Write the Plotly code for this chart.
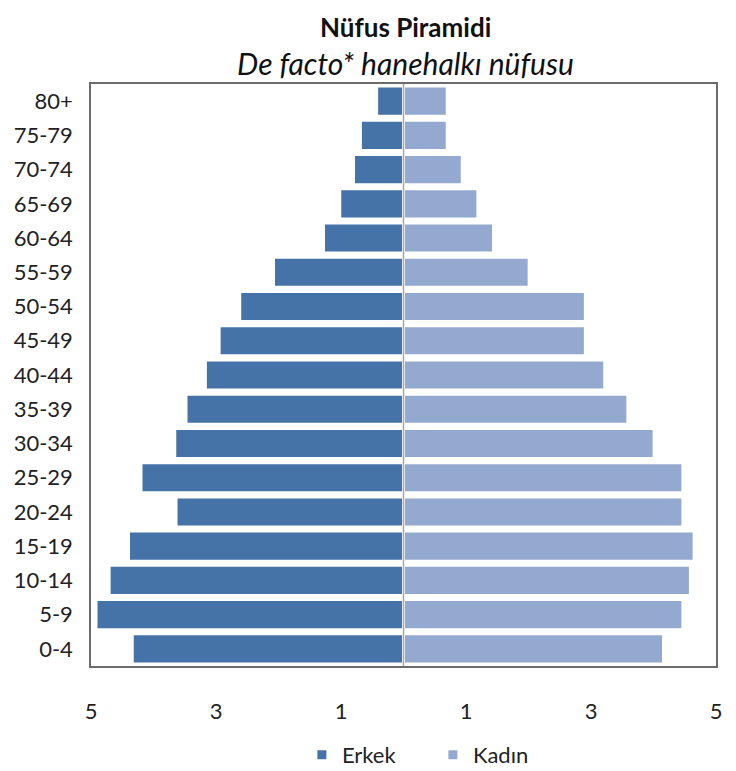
import plotly.graph_objects as go

age_groups = ["0-4", "5-9", "10-14", "15-19", "20-24", "25-29", "30-34", "35-39",
              "40-44", "45-49", "50-54", "55-59", "60-64", "65-69", "70-74", "75-79", "80+"]
erkek = [4.34, 4.92, 4.71, 4.40, 3.64, 4.20, 3.66, 3.48,
         3.17, 2.95, 2.62, 2.08, 1.28, 1.02, 0.80, 0.69, 0.43]
kadin = [4.16, 4.47, 4.59, 4.65, 4.47, 4.47, 4.01, 3.59,
         3.22, 2.91, 2.91, 2.01, 1.44, 1.19, 0.94, 0.70, 0.70]
tick_vals = [-5, -3, -1, 1, 3, 5]
tick_text = ["5", "3", "1", "1", "3", "5"]

FONT = "Lato, 'Open Sans', sans-serif"
L, R, T, B = 83, 28, 76, 113
PH = 771 - T - B

fig = go.Figure()
fig.add_trace(go.Bar(
    y=age_groups, x=[-v for v in erkek], name="Erkek", orientation="h",
    marker=dict(color="#4673A7", line=dict(color="white", width=3)),
))
fig.add_trace(go.Bar(
    y=age_groups, x=kadin, name="Kadın", orientation="h",
    marker=dict(color="#94A9D0", line=dict(color="white", width=3)),
))

fig.update_layout(
    width=736, height=771,
    margin=dict(l=L, r=R, t=T, b=B, autoexpand=False),
    barmode="relative", bargap=0.12,
    plot_bgcolor="white", paper_bgcolor="white",
    font=dict(family=FONT, size=22, color="#222222"),
    showlegend=True,
    legend=dict(orientation="h", x=0.547, xanchor="center",
                y=(T + PH - 747) / PH, yanchor="middle",
                font=dict(size=22), itemwidth=30, traceorder="normal",
                entrywidth=86, entrywidthmode="pixels"),
)
fig.add_annotation(text="<b>Nüfus Piramidi</b>", xref="paper", yref="paper",
                   x=0.503, y=1.0 + (T - 1) / PH, yanchor="top",
                   showarrow=False, font=dict(size=26, family=FONT, color="#111111"))
fig.add_annotation(text="<i>De facto* hanehalkı nüfusu</i>", xref="paper", yref="paper",
                   x=0.503, y=1.0 + (T - 35) / PH, yanchor="top",
                   showarrow=False, font=dict(size=30, family=FONT, color="#111111"))

fig.update_xaxes(range=[-5, 5], tickvals=tick_vals, ticktext=tick_text,
                 showgrid=False, zeroline=False, showline=True, mirror=True,
                 linecolor="#6b6b6b", linewidth=1.5, ticks="", ticklabelstandoff=25,
                 tickfont=dict(size=22))
fig.update_yaxes(showgrid=False, zeroline=False, showline=True, mirror=True,
                 linecolor="#6b6b6b", linewidth=1.5, ticks="", ticklabelstandoff=12,
                 tickfont=dict(size=22), categoryorder="array", categoryarray=age_groups)

fig.add_shape(type="line", x0=0, x1=0, xref="x", y0=0, y1=1, yref="paper",
              line=dict(color="#a6a6a6", width=1.5), layer="above")

fig.write_html("out.html")
